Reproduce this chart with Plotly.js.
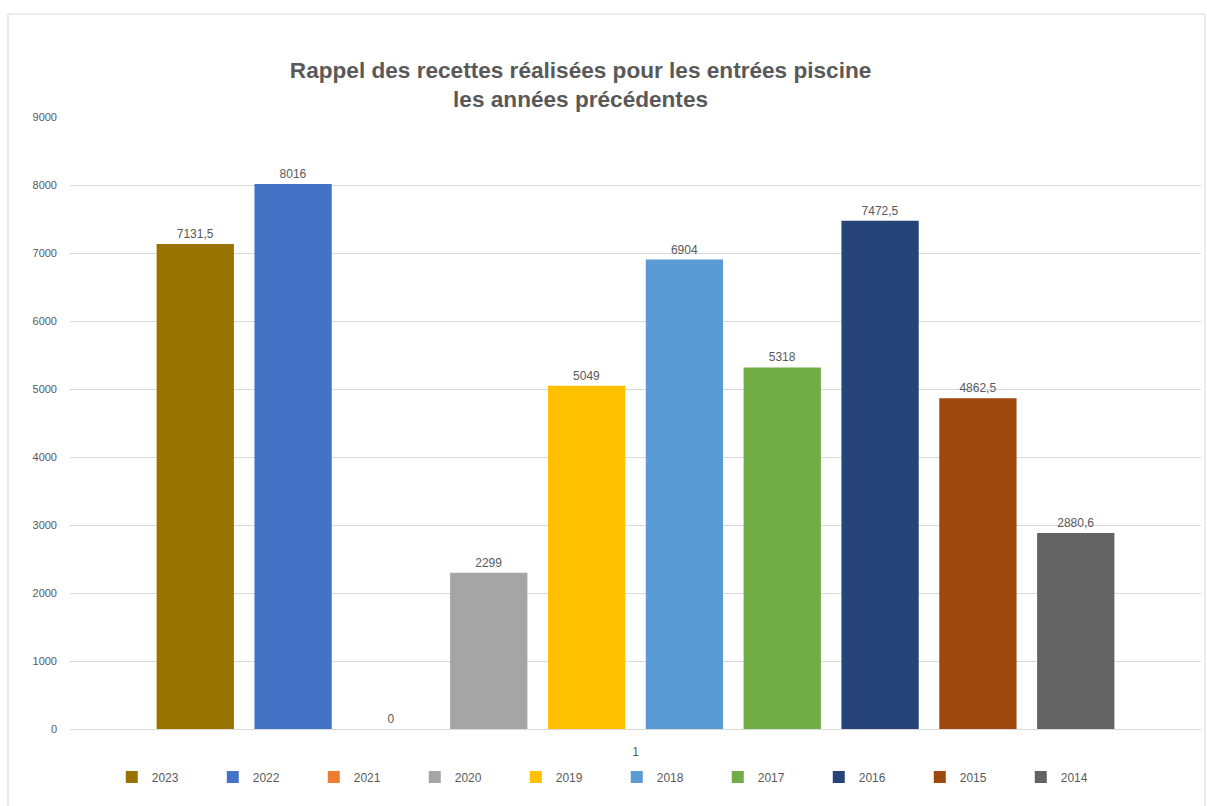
<!DOCTYPE html>
<html>
<head>
<meta charset="utf-8">
<script src="https://cdn.plot.ly/plotly-3.0.1.min.js"></script>
<style>html,body{margin:0;padding:0;background:#fff;}#chart{width:1207px;height:806px;}</style>
</head>
<body>
<div id="chart"></div>
<script>
const categories = ["1"];
const seriesNames = ["2023","2022","2021","2020","2019","2018","2017","2016","2015","2014"];
const seriesValues = [7131.5, 8016, 0, 2299, 5049, 6904, 5318, 7472.5, 4862.5, 2880.6];
const seriesColors = ["#997300","#4472C4","#ED7D31","#A5A5A5","#FFC000","#5B9BD5","#70AD47","#264478","#9E480E","#636363"];
const yTicks = [0,1000,2000,3000,4000,5000,6000,7000,8000,9000];

const traces = seriesNames.map((name, i) => ({
  type: 'bar',
  name: name,
  x: categories,
  y: [seriesValues[i]],
  marker: {color: seriesColors[i]},
  text: [String(seriesValues[i]).replace('.', ',')],
  textposition: 'outside',
  cliponaxis: false,
  textfont: {family: 'Liberation Sans, Arial, sans-serif', size: 12, color: '#595959'},
  hoverinfo: 'skip'
}));

const layout = {
  width: 1207, height: 806,
  paper_bgcolor: '#fff', plot_bgcolor: '#fff',
  margin: {l: 70, r: 6, t: 117, b: 77},
  barmode: 'group',
  bargap: 0.135,
  bargroupgap: 0.21,
  title: {
    text: '<b>Rappel des recettes réalisées pour les entrées piscine<br>les années précédentes</b>',
    font: {family: 'Liberation Sans, sans-serif', size: 22.6, color: '#595959'},
    xref: 'container', x: 0.481, xanchor: 'center',
    yref: 'container', y: 1 - 78/806, yanchor: 'middle'
  },
  xaxis: {
    type: 'category',
    showgrid: false, zeroline: false, showline: false,
    tickfont: {family: 'Liberation Sans, sans-serif', size: 12, color: '#595959'},
    ticks: '', ticklen: 0,
    ticklabelstandoff: 14
  },
  yaxis: {
    range: [0, 9000],
    tickvals: yTicks,
    ticktext: yTicks.map(String),
    showgrid: true, gridcolor: '#D9D9D9', gridwidth: 1,
    zeroline: true, zerolinecolor: '#D9D9D9', zerolinewidth: 1,
    showline: false, ticks: '',
    ticklabelstandoff: 12,
    tickfont: {family: 'Liberation Sans, sans-serif', size: 11, color: '#595959'}
  },
  showlegend: true,
  legend: {
    orientation: 'h',
    xref: 'container', x: 0.511, xanchor: 'center',
    yref: 'container', y: 1 - 777/806, yanchor: 'middle',
    entrywidth: 56, entrywidthmode: 'pixels',
    itemwidth: 30,
    font: {family: 'Liberation Sans, sans-serif', size: 12, color: '#595959'},
    traceorder: 'normal'
  },
  shapes: [{
    type: 'rect', xref: 'paper', yref: 'paper',
    x0: (8-70)/1131, x1: (1205-70)/1131,
    y0: -(830-729)/612, y1: (729-14)/612,
    line: {color: '#D9D9D9', width: 1}, fillcolor: 'rgba(0,0,0,0)', layer: 'below'
  }]
};

Plotly.newPlot('chart', traces, layout, {displayModeBar: false, staticPlot: true});
</script>
</body>
</html>
